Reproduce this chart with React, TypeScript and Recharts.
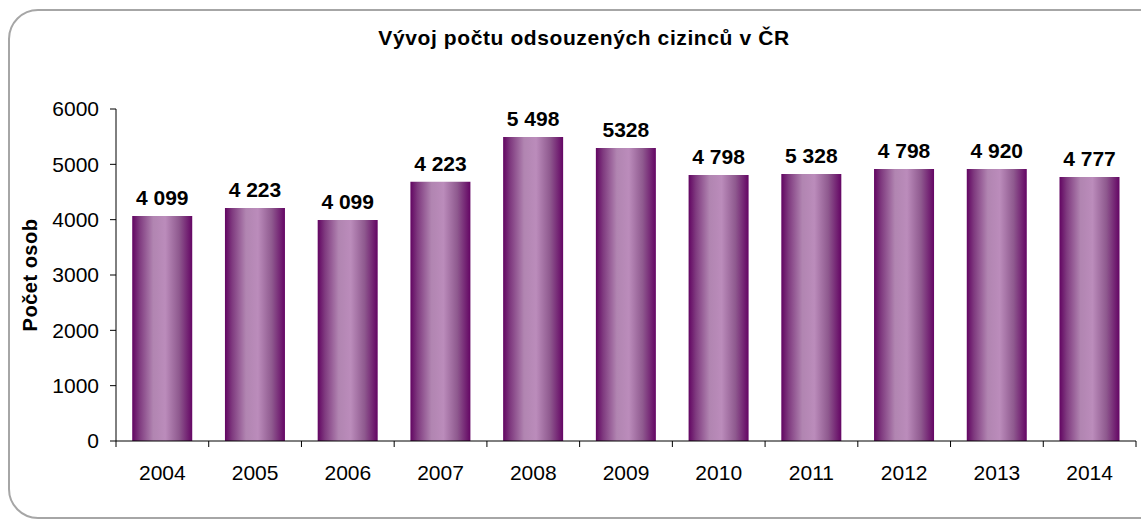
import { BarChart, Bar, XAxis, YAxis, LabelList } from "recharts";

const years = ["2004", "2005", "2006", "2007", "2008", "2009", "2010", "2011", "2012", "2013", "2014"];
const barValues = [4067, 4211, 3995, 4686, 5493, 5294, 4807, 4825, 4915, 4915, 4771];
const labelTexts = ["4 099", "4 223", "4 099", "4 223", "5 498", "5328", "4 798", "5 328", "4 798", "4 920", "4 777"];
const yTicks = [0, 1000, 2000, 3000, 4000, 5000, 6000];

const FONT = "'Liberation Sans', Arial, Helvetica, sans-serif";

const chartData = years.map((year, i) => ({ year, value: barValues[i], label: labelTexts[i] }));

const XTick = (props: any) => {
  const { x, y, payload, index, width, visibleTicksCount } = props;
  const half = width / visibleTicksCount / 2;
  const axisY = y - 24;
  return (
    <g>
      <line x1={x - half} x2={x - half} y1={axisY} y2={axisY + 6} stroke="#000" strokeWidth={1} />
      {index === visibleTicksCount - 1 && (
        <line x1={x + half} x2={x + half} y1={axisY} y2={axisY + 6} stroke="#000" strokeWidth={1} />
      )}
      <text x={x} y={y} dy="0.71em" textAnchor="middle" fontSize={21} fontFamily={FONT} fill="#000">
        {payload.value}
      </text>
    </g>
  );
};

const BarLabel = (props: any) => {
  const { x, y, width, index } = props;
  return (
    <text
      x={x + width / 2}
      y={y - 11}
      textAnchor="middle"
      fontSize={21}
      fontWeight="bold"
      fontFamily={FONT}
      fill="#000"
    >
      {labelTexts[index]}
    </text>
  );
};

export default function App() {
  return (
    <div style={{ position: "absolute", left: 0, top: 0, width: 1141, height: 519, overflow: "hidden", background: "#fff" }}>
      <div
        style={{
          position: "absolute",
          left: 8,
          top: 9,
          width: 1180,
          height: 506,
          border: "2px solid #a6a6a6",
          borderRadius: 30,
        }}
      />
      <div
        style={{
          position: "absolute",
          left: 0,
          top: 26,
          width: 1168,
          textAlign: "center",
          fontFamily: FONT,
          fontWeight: "bold",
          fontSize: 21,
          letterSpacing: 0.6,
          color: "#000",
        }}
      >
        Vývoj počtu odsouzených cizinců v ČR
      </div>
      <div style={{ position: "absolute", left: 0, top: 0 }}>
        <BarChart
          width={1141}
          height={519}
          data={chartData}
          margin={{ top: 109, right: 5, left: 0, bottom: 0 }}
          barCategoryGap="17.5%"
        >
          <defs>
            <linearGradient id="barGrad" x1="0" y1="0" x2="1" y2="0">
              <stop offset="0%" stopColor="#620562" />
              <stop offset="12%" stopColor="#7f3a7f" />
              <stop offset="35%" stopColor="#b185b1" />
              <stop offset="55%" stopColor="#bb8cbb" />
              <stop offset="78%" stopColor="#8f5a8f" />
              <stop offset="100%" stopColor="#640564" />
            </linearGradient>
          </defs>
          <XAxis
            dataKey="year"
            height={78}
            axisLine={{ stroke: "#000", strokeWidth: 1 }}
            tickLine={false}
            tickSize={5}
            tickMargin={19}
            interval={0}
            tick={<XTick />}
          />
          <YAxis
            width={116}
            domain={[0, 6000]}
            ticks={yTicks}
            interval={0}
            axisLine={{ stroke: "#000", strokeWidth: 1 }}
            tickLine={{ stroke: "#000", strokeWidth: 1 }}
            tickSize={6}
            tickMargin={11}
            tick={{ fontSize: 21, fontFamily: FONT, fill: "#000" }}
            label={(props: any) => {
              const vb = props.viewBox;
              const cy = vb.y + vb.height / 2;
              return (
                <text
                  x={30}
                  y={cy}
                  transform={`rotate(-90, 30, ${cy})`}
                  textAnchor="middle"
                  dominantBaseline="central"
                  fontSize={20}
                  fontWeight="bold"
                  letterSpacing={0.5}
                  fontFamily={FONT}
                  fill="#000"
                >
                  Počet osob
                </text>
              );
            }}
          />
          <Bar dataKey="value" fill="url(#barGrad)" isAnimationActive={false}>
            <LabelList dataKey="label" content={<BarLabel />} />
          </Bar>
        </BarChart>
      </div>
    </div>
  );
}
